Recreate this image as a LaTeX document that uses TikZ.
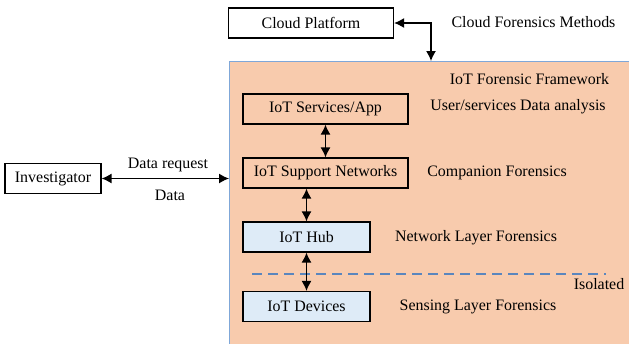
\documentclass[tikz,border=0pt]{standalone}
\usepackage{fontspec}
\setmainfont{Liberation Serif}
\usetikzlibrary{arrows.meta}
\definecolor{peach}{HTML}{F8CBAD}
\definecolor{paleblue}{HTML}{DEEBF7}
\definecolor{frameline}{HTML}{7FA7D8}
\definecolor{dashline}{HTML}{5A86BE}

\begin{document}
\begin{tikzpicture}[>={Latex[length=10bp,width=10bp]},x=1bp,y=-1bp,
    every node/.style={font=\fontsize{16}{18}\selectfont},
    box/.style={draw,line width=1.2bp,minimum height=30bp,inner sep=0pt},
    link/.style={<->,line width=1.3bp}]
                \useasboundingbox (0,0) rectangle (629,343);

                % framework area
                \fill[peach] (229,61) rectangle (635,350);
                \draw[frameline,line width=0.9bp] (229,350)--(229,61)--(635,61);
                \coordinate (fwtop) at (431,61);
                \coordinate (fwleft) at (229,178.5);

                % boxes
                \node[box,fill=white,minimum width=165bp] (cloud) at (311,23) {Cloud Platform};
                \node[box,fill=white,minimum width=96bp] (inv) at (53,178.5) {Investigator};
                \node[box,fill=peach,minimum width=165bp] (app) at (325.5,109) {IoT Services/App};
                \node[box,fill=peach,minimum width=165bp] (net) at (325.5,173) {IoT Support Networks};
                \node[box,fill=paleblue,minimum width=127bp] (hub) at (306.5,237) {IoT Hub};
                \node[box,fill=paleblue,minimum width=127bp] (dev) at (306.5,306.5) {IoT Devices};

                % labels
                \node (cfm) at (533.5,22) {Cloud Forensics Methods};
                \node (iff) at (529.5,79) {IoT Forensic Framework};
                \node (uda) at (518,107) {User/services Data analysis};
                \node (cf) at (497,173) {Companion Forensics};
                \node (nlf) at (476,238) {Network Layer Forensics};
                \node (iso) at (599,284) {Isolated};
                \node (slf) at (478,307) {Sensing Layer Forensics};
                \node (req) at (168,165) {Data request};
                \node (dat) at (170,195) {Data};

                \draw[dashline,line width=1.1bp,dash pattern=on 10bp off 6bp] (252,274)--(606,274);

                % connectors
                \draw[link] (cloud.east)--(fwtop |- cloud.east)--(fwtop);
                \draw[link] (inv.east)--(fwleft);
                \draw[link] (app.south)--(net.north);
                \draw[link] (hub.north |- net.south)--(hub.north);
                \draw[link] (hub.south)--(dev.north);
            \end{tikzpicture}
\end{document}
